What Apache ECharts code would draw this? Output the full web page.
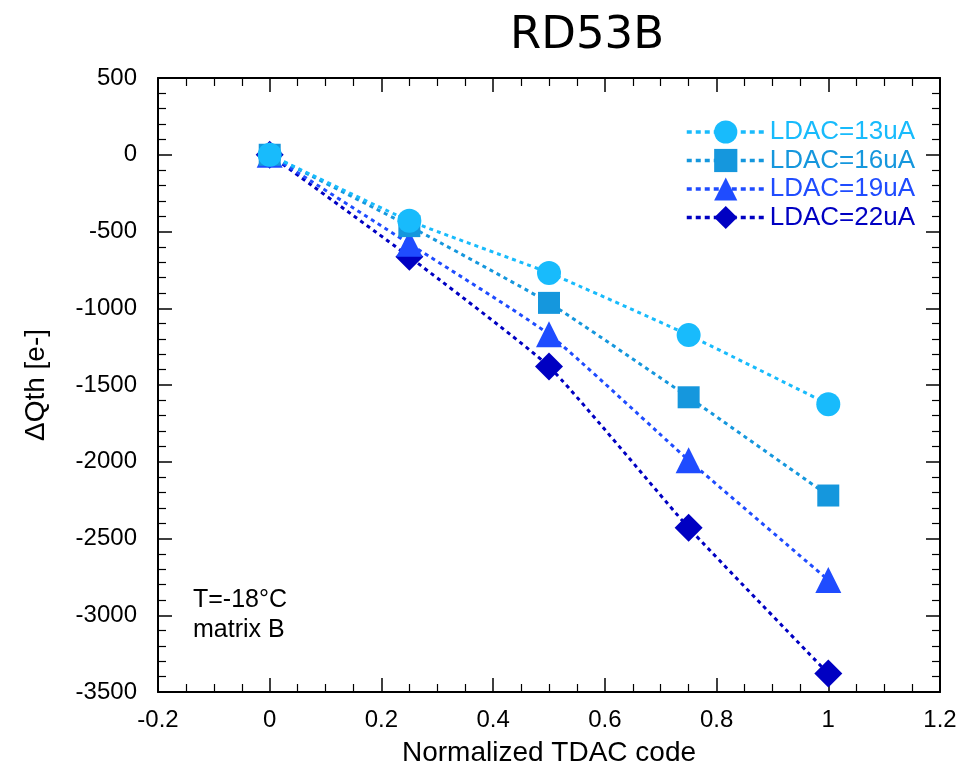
<!DOCTYPE html>
<html>
<head>
<meta charset="utf-8">
<script src="https://cdn.jsdelivr.net/npm/echarts@6/dist/echarts.min.js"></script>
<style>
  html, body { margin: 0; padding: 0; background: #fff; }
  #chart { width: 967px; height: 770px; }
</style>
</head>
<body>
<div id="chart"></div>
<script>
// values
const tdac = [0, 0.25, 0.5, 0.75, 1]
const ldac13 = [0, -430, -770, -1175, -1625]
const ldac16 = [0, -465, -965, -1580, -2220]
const ldac19 = [0, -580, -1170, -1990, -2770]
const ldac22 = [0, -665, -1380, -2430, -3380]
const seriesNames = ['LDAC=13uA', 'LDAC=16uA', 'LDAC=19uA', 'LDAC=22uA']
const colors = ['#18bbfc', '#1597dd', '#1f4cff', '#0000c2']
const symbols = ['circle', 'rect', 'triangle', 'diamond']
const symbolSizes = [24, 22, 26, 28]

const allValues = [ldac13, ldac16, ldac19, ldac22]

const chart = echarts.init(document.getElementById('chart'))

const font = 'Liberation Sans, Arial, sans-serif'

function frameAxis(extra, minorSplit) {
  return Object.assign({
    axisLine: { show: true, onZero: false, lineStyle: { color: '#000', width: 2 } },
    axisTick: { show: true, inside: true, length: 14, lineStyle: { color: '#000', width: 1.5 } },
    minorTick: { show: true, splitNumber: minorSplit, length: 8, lineStyle: { color: '#000', width: 1.2 } },
    splitLine: { show: false },
    minorSplitLine: { show: false }
  }, extra)
}

const series = allValues.map((vals, i) => ({
  name: seriesNames[i],
  type: 'line',
  xAxisIndex: 0,
  yAxisIndex: 0,
  data: tdac.map((x, j) => [x, vals[j]]),
  smooth: 0.15,
  symbol: symbols[i],
  symbolSize: symbolSizes[i],
  itemStyle: { color: colors[i] },
  lineStyle: { color: colors[i], width: 3, type: [4, 4] },
  z: 10 - i
}))

const option = {
  animation: false,
  title: {
    text: 'RD53B',
    left: 582,
    top: 9,
    textAlign: 'center',
    textStyle: { fontFamily: 'DejaVu Sans', fontWeight: 'normal', fontSize: 45, color: '#000' }
  },
  grid: { left: 158, right: 27, top: 78, bottom: 78, outerBoundsMode: 'none' },
  legend: {
    orient: 'vertical',
    left: 680,
    top: 114,
    itemWidth: 78,
    itemHeight: 29,
    itemGap: 2.5,
    lineStyle: { width: 3.5, type: [5, 4] },
    textStyle: { fontFamily: font, fontSize: 26, lineHeight: 22 },
    data: seriesNames.map((n, i) => ({ name: n, textStyle: { color: colors[i] } }))
  },
  xAxis: [
    frameAxis({
      type: 'value',
      min: -0.2,
      max: 1.2,
      interval: 0.2,
      position: 'bottom',
      name: 'Normalized TDAC code',
      nameLocation: 'middle',
      nameGap: 47,
      nameTextStyle: { fontFamily: font, fontSize: 28, color: '#000' },
      axisLabel: {
        margin: 16,
        fontFamily: font,
        fontSize: 24,
        color: '#000',
        formatter: v => String(Math.round(v * 10) / 10)
      }
    }, 4),
    frameAxis({
      type: 'value',
      min: -0.2,
      max: 1.2,
      interval: 0.2,
      position: 'top',
      axisLabel: { show: false }
    }, 4)
  ],
  yAxis: [
    frameAxis({
      type: 'value',
      min: -3500,
      max: 500,
      interval: 500,
      position: 'left',
      name: '\u0394Qth [e-]',
      nameLocation: 'middle',
      nameGap: 108,
      nameTextStyle: { fontFamily: font, fontSize: 28, color: '#000' },
      axisLabel: {
        margin: 21,
        fontFamily: font,
        fontSize: 24,
        color: '#000',
        formatter: v => String(v)
      }
    }, 5),
    frameAxis({
      type: 'value',
      min: -3500,
      max: 500,
      interval: 500,
      position: 'right',
      axisLabel: { show: false }
    }, 5)
  ],
  graphic: [
    {
      type: 'text',
      left: 193,
      top: 585,
      style: {
        text: 'T=-18\u00b0C\nmatrix B',
        fontFamily: font,
        fontSize: 25,
        lineHeight: 30,
        fill: '#000'
      }
    }
  ],
  series: series
}

chart.setOption(option)
</script>
</body>
</html>
